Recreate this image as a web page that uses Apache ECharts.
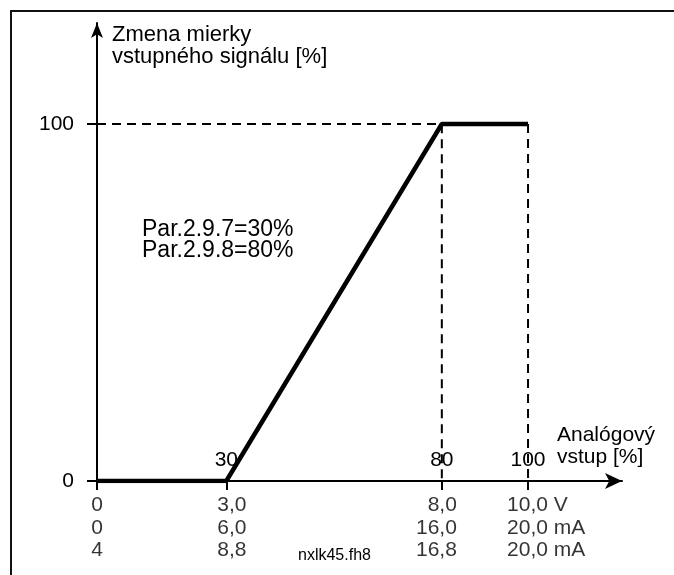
<!DOCTYPE html>
<html>
<head>
<meta charset="utf-8">
<script src="https://cdn.jsdelivr.net/npm/echarts@6/dist/echarts.min.js"></script>
<style>
  html, body { margin: 0; padding: 0; background: #fff; }
  #chart { width: 674px; height: 575px; }
</style>
</head>
<body>
<div id="chart"></div>
<script>
const fontFamily = '"Liberation Sans", Arial, sans-serif'

// scaling curve: analog input [%] -> scaled signal [%]
const inputPct = [0, 30, 80, 100]
const scalePct = [0, 0, 100, 100]

const xTickValues = [0, 30, 80, 100]
const xTopLabelValues = [30, 80, 100]
const yTickValues = [0, 100]

// rows under the x axis
const voltRow = ['0', '3,0', '8,0', '10,0 V']
const currentRow = ['0', '6,0', '16,0', '20,0 mA']
const liveZeroRow = ['4', '8,8', '16,8', '20,0 mA']

const curve = inputPct.map((x, i) => [x, scalePct[i]])
const guideHigh = [[0, scalePct[2]], [inputPct[2], scalePct[2]], [inputPct[2], 0]]
const guideEnd = [[inputPct[3], scalePct[3]], [inputPct[3], 0]]

// label placement per column (center / right / left)
const rowLabelStyle = [
  { align: 'center', offset: [0, 0] },
  { align: 'left', offset: [-9, 0] },
  { align: 'right', offset: [15, 0] },
  { align: 'left', offset: [-21, 0] }
]

const chart = echarts.init(document.getElementById('chart'))

const dashed = {
  color: '#000',
  width: 2,
  type: [9, 6]
}

chart.setOption({
  backgroundColor: '#fff',
  animation: false,
  textStyle: { fontFamily },
  grid: {
    left: 97,
    top: 23,
    right: 52,
    bottom: 94,
    containLabel: false,
    outerBoundsMode: 'none'
  },
  xAxis: {
    type: 'value',
    min: 0,
    max: 121.8,
    splitLine: { show: false },
    axisLine: {
      show: true,
      onZero: false,
      symbol: ['none', 'arrow'],
      symbolSize: [12, 17],
      lineStyle: { color: '#000', width: 2 }
    },
    axisTick: {
      show: true,
      customValues: xTickValues,
      length: 9,
      lineStyle: { color: '#000', width: 2 }
    },
    axisLabel: {
      show: true,
      inside: true,
      customValues: xTopLabelValues,
      margin: 10,
      color: '#000',
      fontSize: 21,
      fontFamily
    },
    name: 'Analógový\nvstup [%]',
    nameLocation: 'end',
    nameGap: -65,
    nameTextStyle: {
      color: '#000',
      fontSize: 21,
      fontFamily,
      align: 'left',
      verticalAlign: 'bottom',
      lineHeight: 22,
      padding: [0, 0, 13, 0]
    }
  },
  yAxis: {
    type: 'value',
    min: 0,
    max: 128.3,
    splitLine: { show: false },
    axisLine: {
      show: true,
      symbol: ['none', 'arrow'],
      symbolSize: [9, 15],
      lineStyle: { color: '#000', width: 2 }
    },
    axisTick: {
      show: true,
      customValues: yTickValues,
      length: 10,
      lineStyle: { color: '#000', width: 2 }
    },
    axisLabel: {
      show: true,
      customValues: yTickValues,
      margin: 23,
      color: '#000',
      fontSize: 21,
      fontFamily
    },
    name: 'Zmena mierky\nvstupného signálu [%]',
    nameLocation: 'end',
    nameGap: -1,
    nameTextStyle: {
      color: '#000',
      fontSize: 22,
      fontFamily,
      align: 'left',
      verticalAlign: 'top',
      lineHeight: 22,
      padding: [0, 0, 0, 15]
    }
  },
  series: [
    {
      name: 'guideHigh',
      type: 'line',
      data: guideHigh,
      symbol: 'none',
      silent: true,
      z: 1,
      lineStyle: dashed
    },
    {
      name: 'guideEnd',
      type: 'line',
      data: guideEnd,
      symbol: 'none',
      silent: true,
      z: 1,
      lineStyle: dashed
    },
    {
      name: 'scaling',
      type: 'line',
      data: curve,
      symbol: 'none',
      z: 3,
      lineStyle: { color: '#000', width: 4.5 }
    },
    {
      name: 'rowLabels',
      type: 'scatter',
      symbolSize: 0,
      silent: true,
      data: xTickValues.map((x, i) => ({
        value: [x, 0],
        label: rowLabelStyle[i]
      })),
      label: {
        show: true,
        position: 'bottom',
        distance: 13,
        color: '#000',
        fontSize: 21,
        lineHeight: 22.5,
        fontFamily,
        formatter: p => [voltRow[p.dataIndex], currentRow[p.dataIndex], liveZeroRow[p.dataIndex]].join('\n')
      }
    }
  ],
  graphic: [
    {
      type: 'rect',
      shape: { x: 11, y: 11, width: 700, height: 600 },
      style: { fill: 'none', stroke: '#111', lineWidth: 2 },
      silent: true
    },
    {
      type: 'text',
      left: 142,
      top: 218,
      style: {
        text: 'Par.2.9.7=' + inputPct[1] + '%\nPar.2.9.8=' + inputPct[2] + '%',
        fill: '#000',
        font: '23px ' + fontFamily,
        lineHeight: 21
      }
    },
    {
      type: 'text',
      left: 298,
      top: 548,
      style: {
        text: 'nxlk45.fh8',
        fill: '#000',
        font: '16px ' + fontFamily
      }
    }
  ]
})
</script>
</body>
</html>
